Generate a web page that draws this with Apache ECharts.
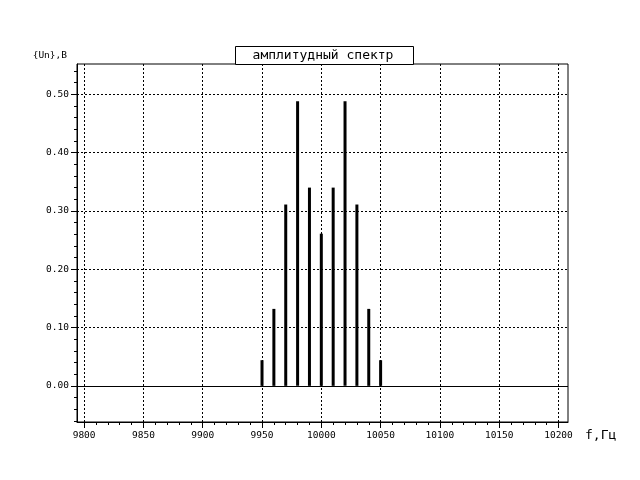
<!DOCTYPE html>
<html>
<head>
<meta charset="utf-8">
<script src="https://cdn.jsdelivr.net/npm/echarts@6/dist/echarts.min.js"></script>
<style>html,body{margin:0;padding:0;background:#fff}#c{width:640px;height:480px}</style>
</head>
<body>
<div id="c"></div>
<script>
const titleText = 'амплитудный спектр';
const yName = '{Un},B';
const xName = 'f,Гц';
const freqs = [9950, 9960, 9970, 9980, 9990, 10000, 10010, 10020, 10030, 10040, 10050];
const amps = [0.044, 0.132, 0.311, 0.488, 0.340, 0.261, 0.340, 0.488, 0.311, 0.132, 0.044];
const xMajorTicks = [9800, 9850, 9900, 9950, 10000, 10050, 10100, 10150, 10200];
const xMinorTicks = [9810, 9820, 9830, 9840, 9860, 9870, 9880, 9890, 9910, 9920, 9930, 9940,
  9960, 9970, 9980, 9990, 10010, 10020, 10030, 10040, 10060, 10070, 10080, 10090,
  10110, 10120, 10130, 10140, 10160, 10170, 10180, 10190];
const yMajorTicks = [0, 0.1, 0.2, 0.3, 0.4, 0.5];
const yMinorTicks = [-0.06, -0.04, -0.02, 0.02, 0.04, 0.06, 0.08, 0.12, 0.14, 0.16, 0.18,
  0.22, 0.24, 0.26, 0.28, 0.32, 0.34, 0.36, 0.38, 0.42, 0.44, 0.46, 0.48, 0.52, 0.54];
const xMin = 9794, xMax = 10208, yMin = -0.062, yMax = 0.552;

const font = 'DejaVu Sans Mono';
const chart = echarts.init(document.getElementById('c'), null, {renderer: 'canvas'});
const dotted = {color: '#000', width: 1, type: [2, 2]};
chart.setOption({
  animation: false,
  backgroundColor: '#fff',
  grid: {left: 77, right: 72, top: 64, bottom: 58, show: true, borderColor: '#000', borderWidth: 1},
  graphic: [
    {type: 'rect', left: 235, top: 46, z: 10, shape: {width: 178, height: 18}, style: {fill: '#fff', stroke: '#000', lineWidth: 1}},
    {type: 'text', x: 323, y: 56, z: 11, style: {text: titleText, font: '13px "' + font + '"', fill: '#000', align: 'center', verticalAlign: 'middle'}},
    {type: 'text', x: 67, y: 56, z: 11, style: {text: yName, font: '9.5px "' + font + '"', fill: '#000', align: 'right', verticalAlign: 'middle'}},
    {type: 'text', x: 585, y: 436, z: 11, style: {text: xName, font: '13px "' + font + '"', fill: '#000', align: 'left', verticalAlign: 'middle'}}
  ],
  xAxis: [
    {type: 'value', min: xMin, max: xMax, position: 'bottom',
     axisLine: {show: true, onZero: false, lineStyle: {color: '#000', width: 1}},
     axisTick: {show: true, length: 6, customValues: xMajorTicks, lineStyle: {color: '#000'}},
     axisLabel: {show: true, customValues: xMajorTicks, margin: 9, fontFamily: font, fontSize: 9.5, color: '#000', formatter: v => String(v)},
     splitLine: {show: true, lineStyle: dotted}},
    {type: 'value', min: xMin, max: xMax, position: 'bottom',
     axisLine: {show: false, onZero: false},
     axisTick: {show: true, length: 3, customValues: xMinorTicks, lineStyle: {color: '#000'}},
     axisLabel: {show: false},
     splitLine: {show: false}}
  ],
  yAxis: [
    {type: 'value', min: yMin, max: yMax, position: 'left',
     axisLine: {show: true, onZero: false, lineStyle: {color: '#000', width: 1}},
     axisTick: {show: true, length: 6, customValues: yMajorTicks, lineStyle: {color: '#000'}},
     axisLabel: {show: true, customValues: yMajorTicks, margin: 8, fontFamily: font, fontSize: 9.5, color: '#000', formatter: v => v.toFixed(2)},
     splitLine: {show: true, lineStyle: dotted}},
    {type: 'value', min: yMin, max: yMax, position: 'left',
     axisLine: {show: false, onZero: false},
     axisTick: {show: true, length: 3, customValues: yMinorTicks, lineStyle: {color: '#000'}},
     axisLabel: {show: false},
     splitLine: {show: false}}
  ],
  series: [{
    type: 'bar', xAxisIndex: 0, yAxisIndex: 0, barWidth: 3,
    itemStyle: {color: '#000'},
    data: freqs.map((f, i) => [f, amps[i]]),
    markLine: {silent: true, symbol: 'none', label: {show: false},
      lineStyle: {color: '#000', width: 1, type: 'solid'},
      data: [{yAxis: 0}]}
  }]
});
</script>
</body>
</html>
